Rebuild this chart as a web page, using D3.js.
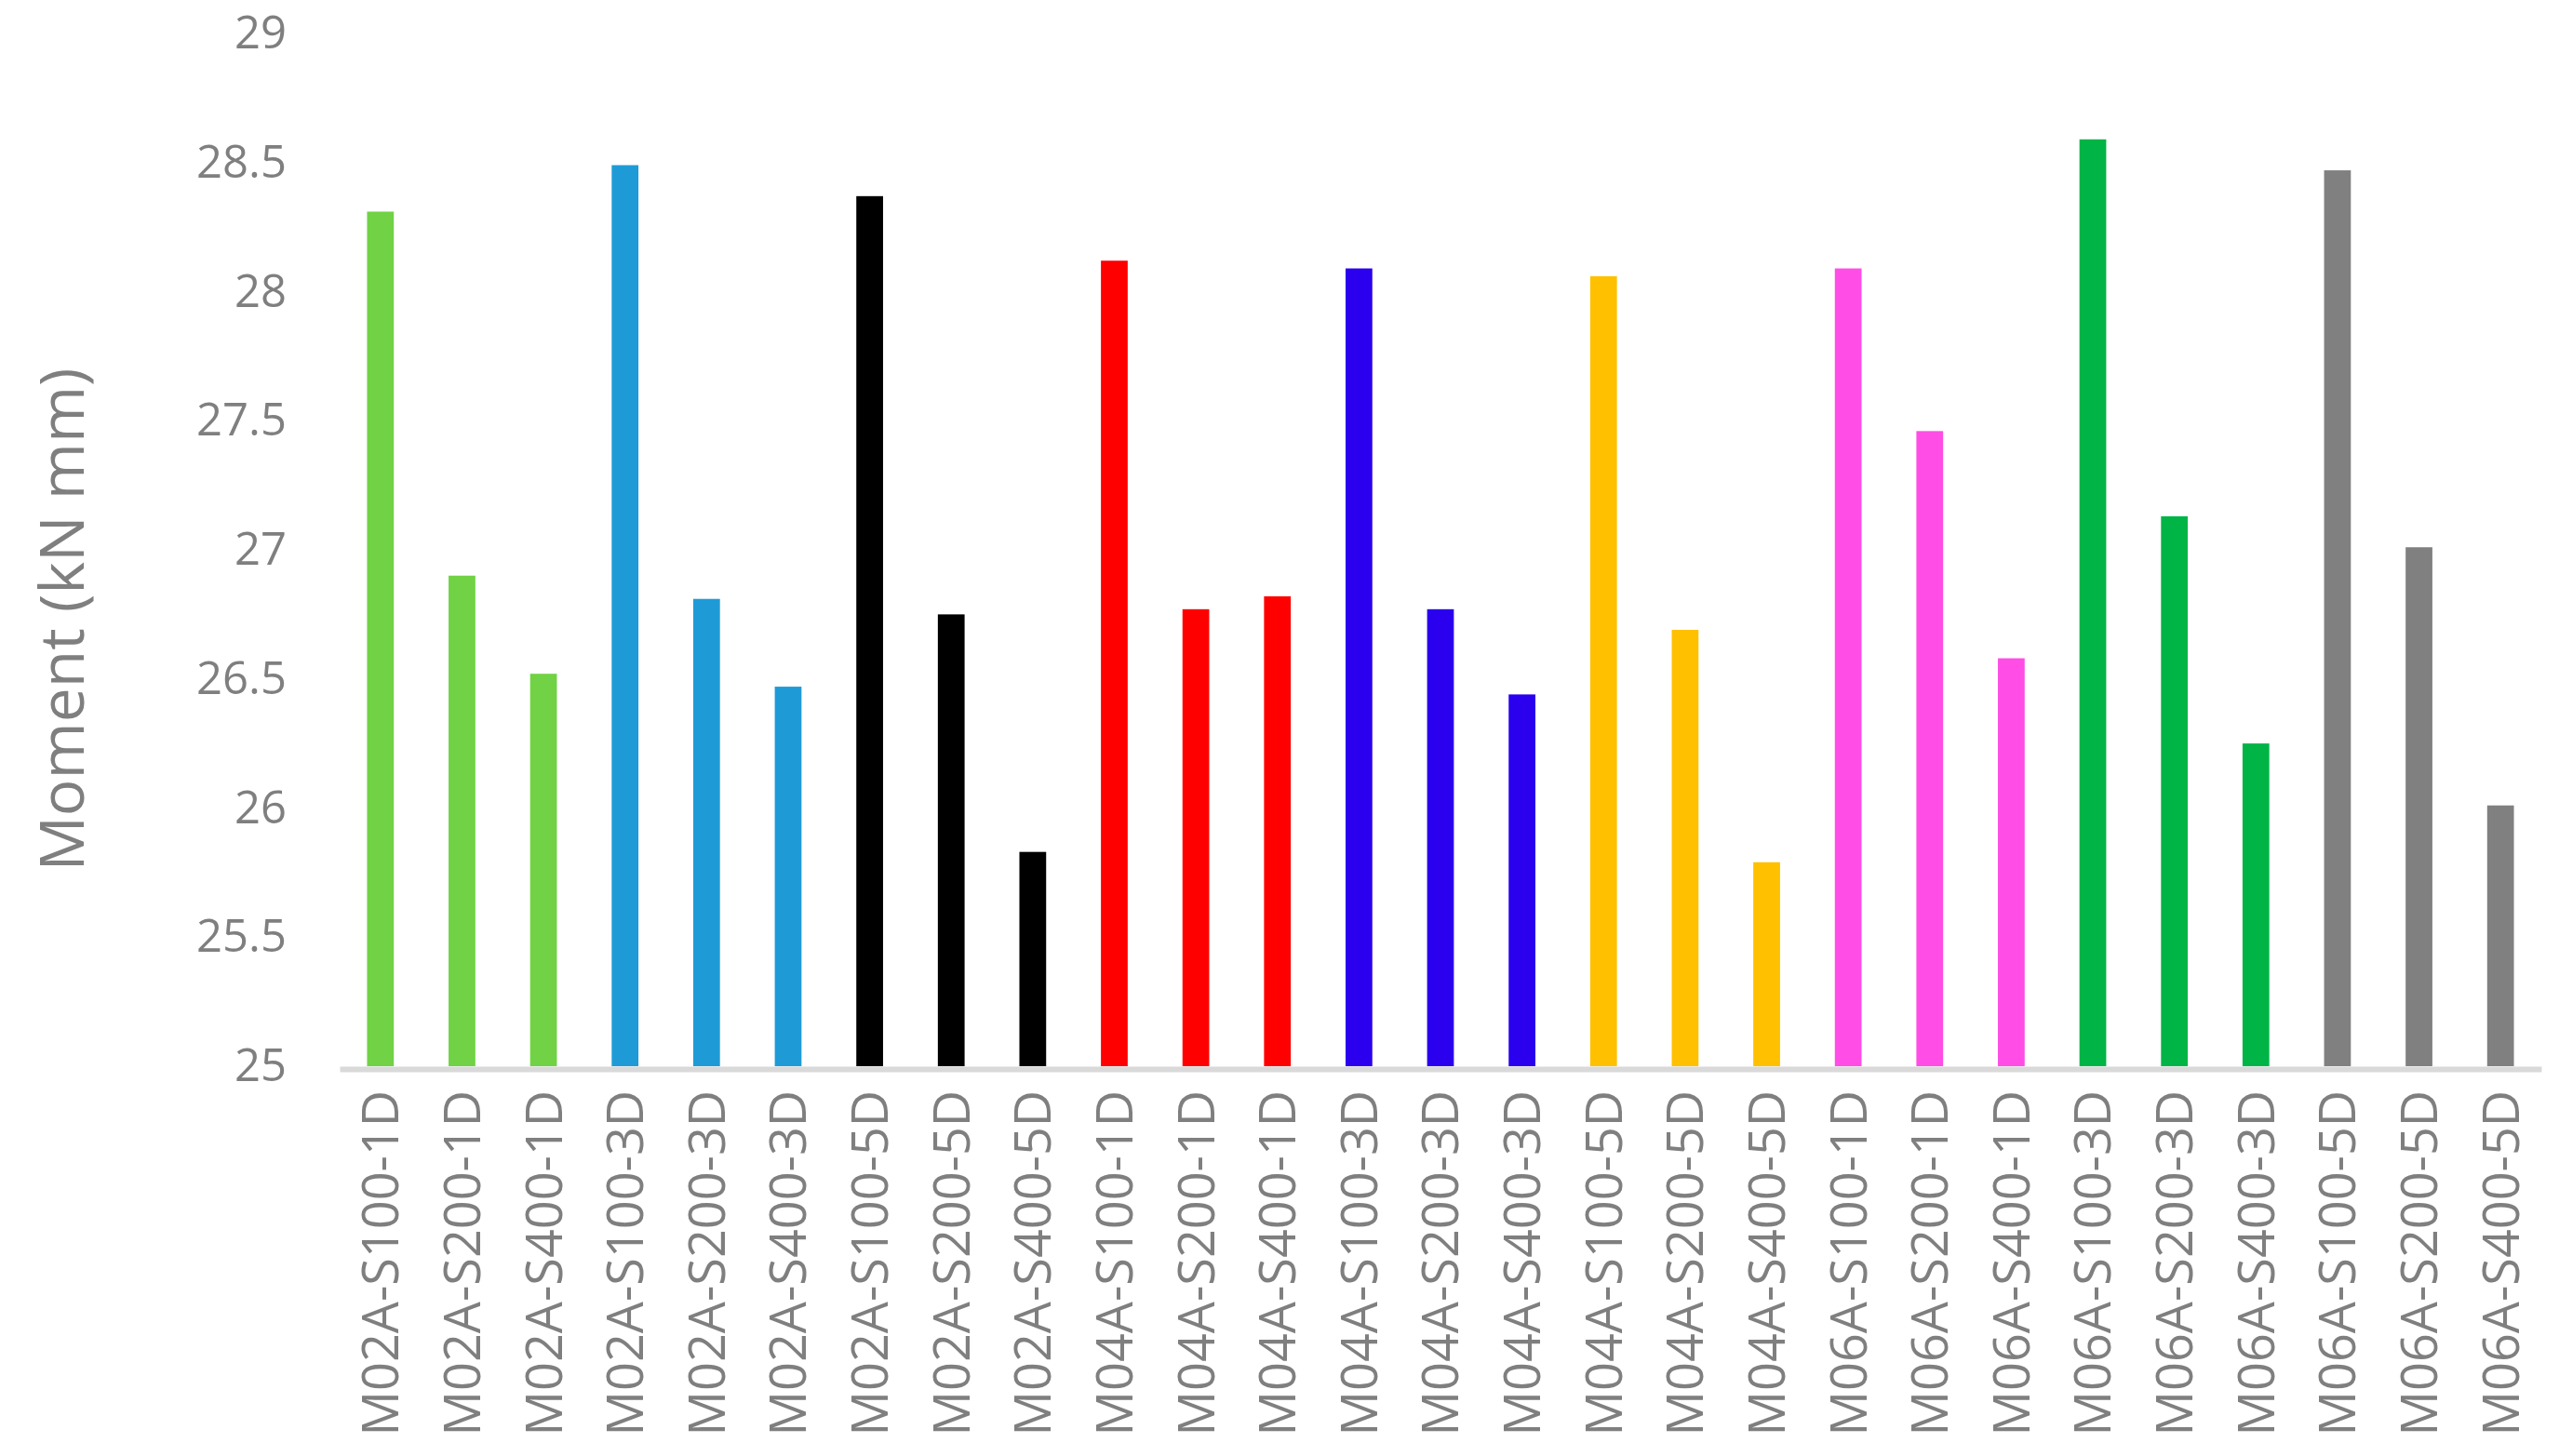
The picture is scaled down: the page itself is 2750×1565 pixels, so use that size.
<!DOCTYPE html>
<html>
<head>
<meta charset="utf-8">
<script src="https://cdn.jsdelivr.net/npm/d3@7"></script>
<style>
	body { margin: 0; background: #fff; }
	text { font-family: "Open Sans", sans-serif; fill: #7f7f7f; }
</style>
</head>
<body>
<svg width="2750" height="1565"></svg>
<script>
// Moment per specimen, grouped by mix and spacing depth

var specimens = [
	"M02A-S100-1D", "M02A-S200-1D", "M02A-S400-1D",
	"M02A-S100-3D", "M02A-S200-3D", "M02A-S400-3D",
	"M02A-S100-5D", "M02A-S200-5D", "M02A-S400-5D",
	"M04A-S100-1D", "M04A-S200-1D", "M04A-S400-1D",
	"M04A-S100-3D", "M04A-S200-3D", "M04A-S400-3D",
	"M04A-S100-5D", "M04A-S200-5D", "M04A-S400-5D",
	"M06A-S100-1D", "M06A-S200-1D", "M06A-S400-1D",
	"M06A-S100-3D", "M06A-S200-3D", "M06A-S400-3D",
	"M06A-S100-5D", "M06A-S200-5D", "M06A-S400-5D"
];

var moments = [
	28.31, 26.90, 26.52,
	28.49, 26.81, 26.47,
	28.37, 26.75, 25.83,
	28.12, 26.77, 26.82,
	28.09, 26.77, 26.44,
	28.06, 26.69, 25.79,
	28.09, 27.46, 26.58,
	28.59, 27.13, 26.25,
	28.47, 27.01, 26.01
];

// one colour per group of three bars
var group_colors = ["#70d244", "#1e9bd7", "#000000", "#ff0000", "#2a00ef",
	"#ffc000", "#ff4de6", "#00b446", "#808080"];

var y_ticks = [25, 25.5, 26, 26.5, 27, 27.5, 28, 28.5, 29];

var data = specimens.map((s, i) => ({name: s, value: moments[i], group: Math.floor(i / 3)}));

var svg = d3.select("svg");

var x = d3.scaleBand()
	.domain(specimens)
	.range([365, 2731])
	.paddingInner(0.672)
	.paddingOuter(0.336);

var y = d3.scaleLinear()
	.domain([25, 29])
	.range([1146, 36]);

// bars
svg.append("g")
	.selectAll("rect")
	.data(data)
	.enter().append("rect")
	.attr("x", d => x(d.name))
	.attr("y", d => y(d.value))
	.attr("width", x.bandwidth())
	.attr("height", d => y(25) - y(d.value))
	.attr("fill", d => group_colors[d.group]);

// y axis labels only
var yAxis = svg.append("g")
	.attr("transform", "translate(308,0)")
	.call(d3.axisLeft(y).tickValues(y_ticks).tickSize(0).tickPadding(0).tickFormat(d => String(d)));
yAxis.select(".domain").remove();
yAxis.selectAll("text")
	.style("font-size", "49px")
	.attr("fill", null);

// x axis with light baseline
var xAxis = svg.append("g")
	.attr("transform", "translate(0,1149)")
	.call(d3.axisBottom(x).tickSize(0).tickSizeOuter(0));
xAxis.select(".domain")
	.attr("stroke", "#d9d9d9")
	.attr("stroke-width", 6);
xAxis.selectAll("text")
	.attr("transform", "rotate(-90)")
	.attr("text-anchor", "end")
	.attr("x", -23)
	.attr("y", 0)
	.attr("dy", "0.36em")
	.attr("fill", null)
	.style("font-size", "54px");

// axis title
svg.append("text")
	.attr("transform", "translate(67,666) rotate(-90)")
	.attr("text-anchor", "middle")
	.attr("dy", "0.35em")
	.style("font-size", "66px")
	.text("Moment (kN mm)");
</script>
</body>
</html>
